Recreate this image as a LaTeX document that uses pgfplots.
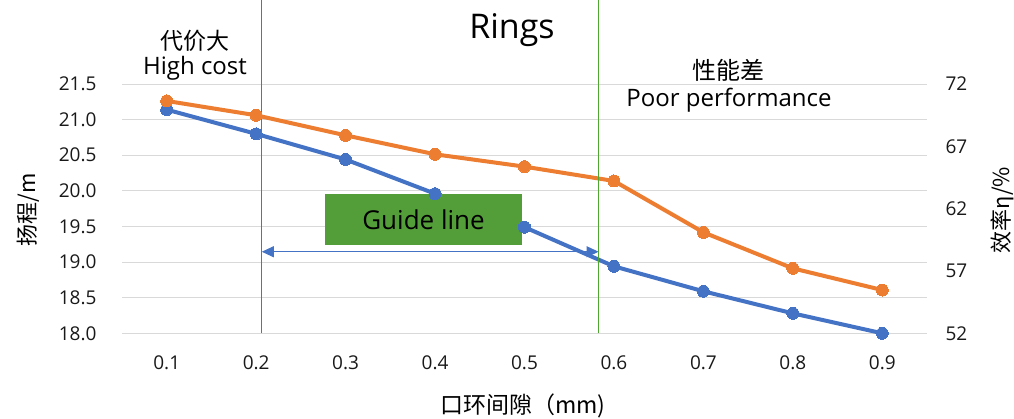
\documentclass[border=0pt]{standalone}
\usepackage{fontspec}
\setmainfont{Open Sans}
\newfontfamily\cjk{Noto Sans CJK SC}
\usepackage{pgfplots}
\pgfplotsset{compat=1.18}
\usetikzlibrary{arrows.meta}
\definecolor{xblue}{HTML}{4472C4}
\definecolor{xorange}{HTML}{ED7D31}
\definecolor{xgrid}{HTML}{D9D9D9}
\definecolor{vgreenA}{RGB}{0,176,80}
\definecolor{vgreenB}{RGB}{78,167,46}
\definecolor{gbox}{HTML}{549E39}
\begin{document}
\begin{tikzpicture}
\useasboundingbox (0,0) rectangle (1014pt,418pt);
\pgfplotsset{
  base/.style={
    at={(122pt,84.7pt)}, anchor=south west, scale only axis,
    width=805pt, height=249.3pt,
    xmin=0.05, xmax=0.95,
    xtick={0.1,0.2,0.3,0.4,0.5,0.6,0.7,0.8,0.9},
    xticklabels={0.1,0.2,0.3,0.4,0.5,0.6,0.7,0.8,0.9},
    axis line style={draw=none},
    major tick length=0pt,
    tick label style={font=\fontsize{19}{22}\selectfont, text=black!90},
    clip=false,
  }
}
\begin{axis}[base,
  ymin=18, ymax=21.5,
  ytick={18,18.5,19,19.5,20,20.5,21,21.5},
  yticklabels={18.0,18.5,19.0,19.5,20.0,20.5,21.0,21.5},
  ymajorgrids, grid style={draw=xgrid, line width=1pt},
  yticklabel style={xshift=-22pt},
  xticklabel style={yshift=-19pt},
]
\addplot[xblue, line width=4pt, line join=round, mark=*, mark size=6pt,
  mark options={fill=xblue, draw=xblue, line width=0pt}]
  coordinates {(0.1,21.14)(0.2,20.80)(0.3,20.44)(0.4,19.96)(0.5,19.49)(0.6,18.94)(0.7,18.59)(0.8,18.28)(0.9,18.00)};
\fill[gbox] (axis cs:0.2771,19.239) rectangle (axis cs:0.4971,19.955);
\node[font=\fontsize{26}{30}\selectfont] at (axis cs:0.3871,19.597) {Guide line};
\draw[xblue, line width=1pt, {Triangle[length=12pt,width=11pt]}-{Triangle[length=12pt,width=11pt]}]
  (axis cs:0.2063,19.145) -- (axis cs:0.5828,19.145);
\end{axis}
\begin{axis}[base,
  ymin=52, ymax=72,
  ytick={52,57,62,67,72},
  yticklabels={52,57,62,67,72},
  axis y line*=right, axis x line=none,
  yticklabel style={xshift=15pt},
]
\addplot[xorange, line width=4pt, line join=round, mark=*, mark size=6pt,
  mark options={fill=xorange, draw=xorange, line width=0pt}]
  coordinates {(0.1,70.64)(0.2,69.49)(0.3,67.88)(0.4,66.36)(0.5,65.37)(0.6,64.22)(0.7,60.10)(0.8,57.21)(0.9,55.47)};
\draw[draw=vgreenA, line width=1.2pt] (axis cs:0.2063,52) -- ++(0pt,333.3pt);
\draw[draw=vgreenB, line width=1.2pt] (axis cs:0.5828,52) -- ++(0pt,333.3pt);
\end{axis}
\node[font={\cjk\fontsize{22}{26}\selectfont}, rotate=90] at (28pt,208pt) {扬程/m};
\node[font={\cjk\fontsize{22}{26}\selectfont}, rotate=90] at (1002pt,208pt) {效率η/\%};
\node[font={\cjk\fontsize{23}{27}\selectfont}] at (523pt,12pt) {口环间隙（mm)};
\node[font=\fontsize{34}{40}\selectfont, anchor=base] at (512pt,379pt) {Rings};
\node[font={\cjk\fontsize{23}{27}\selectfont}, anchor=base] at (195pt,368pt) {代价大};
\node[font=\fontsize{24}{28}\selectfont, anchor=base] at (195pt,343pt) {High cost};
\node[font={\cjk\fontsize{24}{28}\selectfont}, anchor=base] at (728pt,338pt) {性能差};
\node[font=\fontsize{24}{28}\selectfont, anchor=base] at (729pt,311pt) {Poor performance};
\end{tikzpicture}
\end{document}
